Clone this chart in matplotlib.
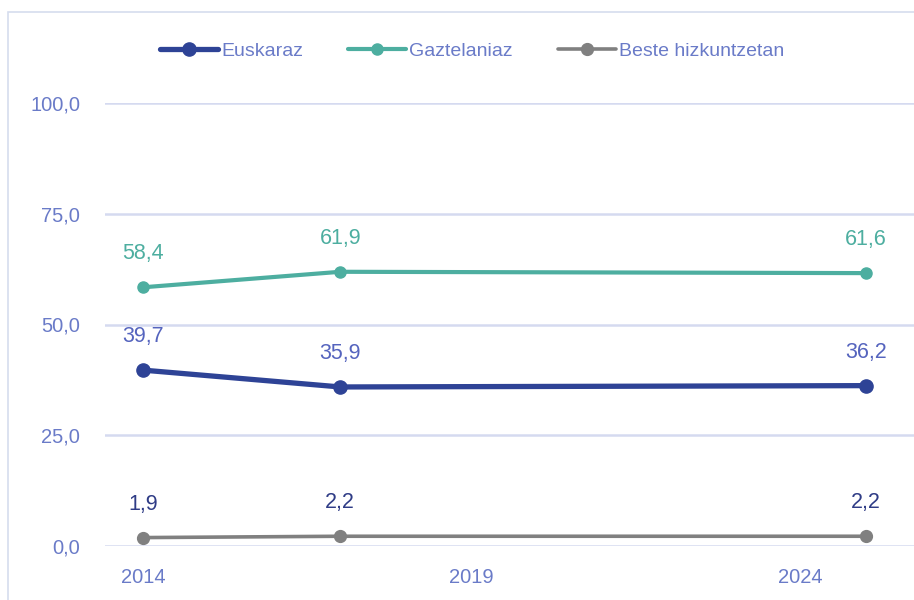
import matplotlib.pyplot as plt
from matplotlib.patches import Rectangle

##### Data
years = [2014, 2017, 2025]
euskaraz = [39.7, 35.9, 36.2]
gaztelaniaz = [58.4, 61.9, 61.6]
beste = [1.9, 2.2, 2.2]
series_names = ['Euskaraz', 'Gaztelaniaz', 'Beste hizkuntzetan']
x_ticks = [2014, 2019, 2024]
y_ticks = [0, 25, 50, 75, 100]

##### Styles
col_eus = '#2E4396'
col_gaz = '#4DAEA0'
col_bes = '#808080'
col_text = '#6A7BC8'
col_grid = '#D5DAF0'

plt.rcParams['font.family'] = ['Liberation Sans', 'DejaVu Sans']

fig = plt.figure(figsize=(9.14, 6.0), dpi=100)
ax = fig.add_axes([105 / 914, 1 - 546 / 600, 1 - 105 / 914, (546 - 103) / 600])

# outer chart frame
fig.patches.append(Rectangle((8 / 914, -0.05), 1.0, 1 - 12 / 600 + 0.05, transform=fig.transFigure,
                             facecolor='none', edgecolor='#D6DDEE', linewidth=1.2))

series = [
    (euskaraz, col_eus, 3.8, 9.5, '#5564BE'),
    (gaztelaniaz, col_gaz, 3.0, 8, col_gaz),
    (beste, col_bes, 2.6, 8.5, '#2F3C86'),
]
for (vals, col, lw, ms, lab_col), name in zip(series, series_names):
    ax.plot(years, vals, color=col, linewidth=lw, marker='o', markersize=ms,
            solid_capstyle='round', label=name, clip_on=False, zorder=3)
    for x, v in zip(years, vals):
        ax.annotate(f'{v:.1f}'.replace('.', ','), (x, v), xytext=(0, 24),
                    textcoords='offset points', ha='center', va='center',
                    fontsize=15.5, color=lab_col)

ax.set_ylim(0, 100)
ax.set_xlim(2013.42, 2025.73)
ax.set_yticks(y_ticks)
ax.set_yticklabels([f'{t:.1f}'.replace('.', ',') for t in y_ticks])
ax.set_xticks(x_ticks)
ax.grid(axis='y', color=col_grid, linewidth=1.8)
ax.set_axisbelow(True)
for s in ax.spines.values():
    s.set_visible(False)
ax.tick_params(length=0, labelsize=14.5, colors=col_text)
ax.tick_params(axis='y', pad=18)
ax.tick_params(axis='x', pad=16)

leg = fig.legend(loc='center', bbox_to_anchor=(472 / 914, 1 - 51 / 600), ncol=3, frameon=False,
                 fontsize=14, handlelength=3.0, handletextpad=0.15, columnspacing=2.3)
for t in leg.get_texts():
    t.set_color(col_text)

plt.savefig('out.png', dpi=100)
